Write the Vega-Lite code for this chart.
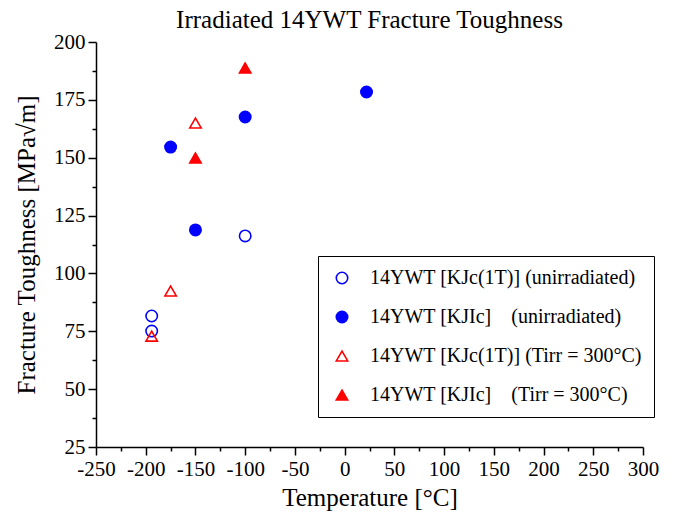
{
  "$schema": "https://vega.github.io/schema/vega-lite/v6.json",
  "width": 547,
  "height": 405,
  "autosize": "none",
  "padding": {"left": 96, "top": 42, "right": 33, "bottom": 68},
  "background": "white",
  "title": {"text": "Irradiated 14YWT Fracture Toughness", "font": "Liberation Serif", "fontSize": 25, "fontWeight": "normal", "color": "black", "anchor": "middle", "offset": -2},
  "config": {
    "view": {"stroke": null},
    "axis": {
      "grid": false,
      "domainColor": "black", "domainWidth": 1.5,
      "tickColor": "black", "tickWidth": 1.5,
      "labelFont": "Liberation Serif", "labelFontSize": 21, "labelColor": "black",
      "labelFlush": false, "labelOverlap": false, "labelBound": false, "labelPadding": 3,
      "titleFont": "Liberation Serif", "titleFontSize": 25, "titleFontWeight": "normal", "titleColor": "black"
    }
  },
  "data": {"values": [
    {"temp": -194, "k": 81.6, "series": "14YWT [KJc(1T)] (unirradiated)"},
    {"temp": -194, "k": 75.1, "series": "14YWT [KJc(1T)] (unirradiated)"},
    {"temp": -100, "k": 116.2, "series": "14YWT [KJc(1T)] (unirradiated)"},
    {"temp": -175, "k": 154.6, "series": "14YWT [KJIc]    (unirradiated)"},
    {"temp": -150, "k": 118.8, "series": "14YWT [KJIc]    (unirradiated)"},
    {"temp": -100, "k": 167.6, "series": "14YWT [KJIc]    (unirradiated)"},
    {"temp": 22, "k": 178.4, "series": "14YWT [KJIc]    (unirradiated)"},
    {"temp": -150, "k": 165.0, "series": "14YWT [KJc(1T)] (Tirr = 300°C)"},
    {"temp": -175, "k": 92.4, "series": "14YWT [KJc(1T)] (Tirr = 300°C)"},
    {"temp": -194, "k": 72.9, "series": "14YWT [KJc(1T)] (Tirr = 300°C)"},
    {"temp": -150, "k": 149.9, "series": "14YWT [KJIc]    (Tirr = 300°C)"},
    {"temp": -100, "k": 188.8, "series": "14YWT [KJIc]    (Tirr = 300°C)"}
  ]},
  "mark": {"type": "point", "size": 130, "strokeWidth": 1.6, "opacity": 1},
  "encoding": {
    "x": {
      "field": "temp", "type": "quantitative",
      "scale": {"domain": [-250, 300], "nice": false, "zero": false},
      "axis": {
        "title": "Temperature [°C]",
        "values": [-250, -225, -200, -175, -150, -125, -100, -75, -50, -25, 0, 25, 50, 75, 100, 125, 150, 175, 200, 225, 250, 275, 300],
        "labelExpr": "datum.value % 50 === 0 ? '' + datum.value : ''",
        "tickSize": {"condition": {"test": "datum.value % 50 === 0", "value": 8}, "value": 4},
        "titlePadding": 6
      }
    },
    "y": {
      "field": "k", "type": "quantitative",
      "scale": {"domain": [25, 200], "nice": false, "zero": false},
      "axis": {
        "title": "Fracture Toughness [MPa√m]",
        "values": [25, 37.5, 50, 62.5, 75, 87.5, 100, 112.5, 125, 137.5, 150, 162.5, 175, 187.5, 200],
        "labelExpr": "datum.value % 25 === 0 ? '' + datum.value : ''",
        "tickSize": {"condition": {"test": "datum.value % 25 === 0", "value": 8}, "value": 4},
        "titlePadding": 14
      }
    },
    "shape": {
      "field": "series", "type": "nominal",
      "scale": {
        "domain": ["14YWT [KJc(1T)] (unirradiated)", "14YWT [KJIc]    (unirradiated)", "14YWT [KJc(1T)] (Tirr = 300°C)", "14YWT [KJIc]    (Tirr = 300°C)"],
        "range": ["circle", "circle", "triangle-up", "triangle-up"]
      },
      "legend": {
        "title": null, "orient": "none", "legendX": 222, "legendY": 214,
        "strokeColor": "black", "fillColor": "white", "padding": 12,
        "labelFont": "Liberation Serif", "labelFontSize": 20, "labelColor": "black",
        "labelOffset": 18, "symbolOffset": 2, "rowPadding": 19, "symbolSize": 130, "symbolStrokeWidth": 1.6,
        "labelLimit": 400,
        "labelExpr": "replace(datum.label, '    ', '\u00a0\u00a0\u00a0 ')"
      }
    },
    "stroke": {
      "field": "series", "type": "nominal",
      "scale": {
        "domain": ["14YWT [KJc(1T)] (unirradiated)", "14YWT [KJIc]    (unirradiated)", "14YWT [KJc(1T)] (Tirr = 300°C)", "14YWT [KJIc]    (Tirr = 300°C)"],
        "range": ["#0000ff", "#0000ff", "#ff0000", "#ff0000"]
      }
    },
    "fill": {
      "field": "series", "type": "nominal",
      "scale": {
        "domain": ["14YWT [KJc(1T)] (unirradiated)", "14YWT [KJIc]    (unirradiated)", "14YWT [KJc(1T)] (Tirr = 300°C)", "14YWT [KJIc]    (Tirr = 300°C)"],
        "range": ["transparent", "#0000ff", "transparent", "#ff0000"]
      }
    }
  }
}
